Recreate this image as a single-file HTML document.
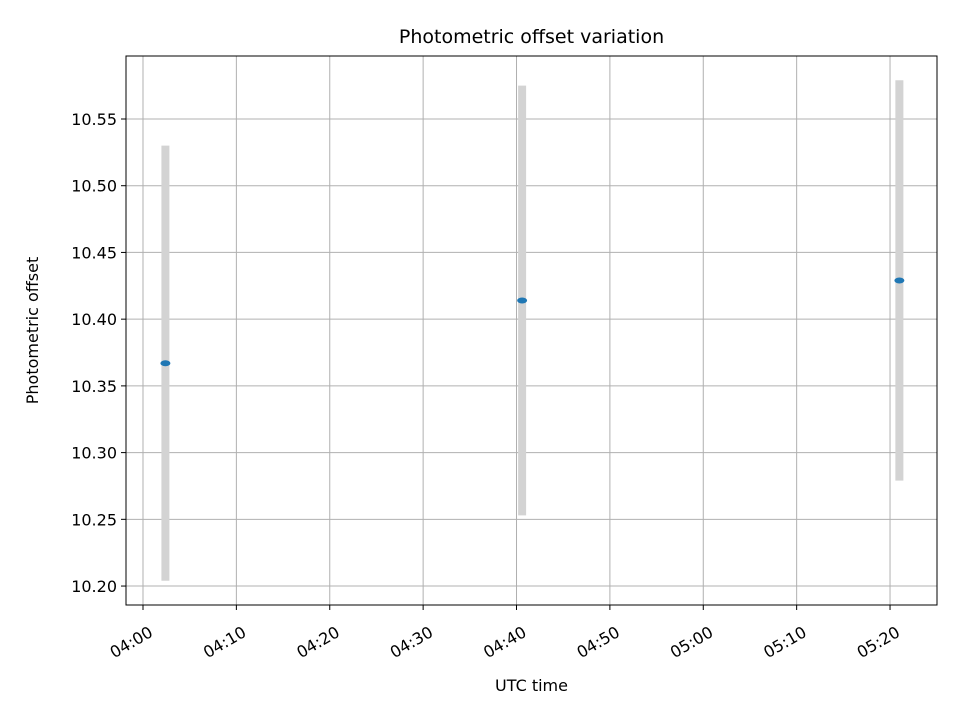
<!DOCTYPE html>
<html><head><meta charset="utf-8"><style>body{margin:0;background:#fff}svg{display:block;font-family:"DejaVu Sans","Liberation Sans",sans-serif}</style></head>
<body>
<svg id="chart" width="960" height="720" viewBox="0 0 960 720"></svg>
<script>
const times = [2.4, 40.6, 81.0]; // minutes after 04:00
const offsets = [10.367, 10.414, 10.429];
const errors = [0.163, 0.161, 0.150];
const yTicks = [10.20, 10.25, 10.30, 10.35, 10.40, 10.45, 10.50, 10.55];
const xTicks = [0, 10, 20, 30, 40, 50, 60, 70, 80];
const xTickLabels = ["04:00","04:10","04:20","04:30","04:40","04:50","05:00","05:10","05:20"];

const L=126,R=937,T=56,B=605;
const xMin=-1.82,xMax=85.03,yMin=10.1858,yMax=10.5972;
const sx=v=>L+(v-xMin)/(xMax-xMin)*(R-L);
const sy=v=>B-(v-yMin)/(yMax-yMin)*(B-T);
const svg=document.getElementById('chart');
const NS='http://www.w3.org/2000/svg';
function mk(tag,attrs,parent){const e=document.createElementNS(NS,tag);for(const k in attrs)e.setAttribute(k,attrs[k]);(parent||svg).appendChild(e);return e;}

const grid=mk('g',{});


xTicks.forEach((t,i)=>{
  const x=sx(t);
  const g=mk('line',{x1:x,x2:x,y1:T,y2:B,stroke:'#b0b0b0','stroke-width':1},grid);
  
  
  const tk=mk('line',{x1:x,x2:x,y1:B,y2:B+5,stroke:'#000','stroke-width':1});
  
  
  const tx=mk('text',{x:0,y:0,'font-size':16,'text-anchor':'end',transform:`translate(${x+5},${B+20}) rotate(-30)`,dy:'0.75em'});
  tx.textContent=xTickLabels[i];
  
  
});
yTicks.forEach(t=>{
  const y=sy(t);
  const g=mk('line',{x1:L,x2:R,y1:y,y2:y,stroke:'#b0b0b0','stroke-width':1},grid);
  
  
  const tk=mk('line',{x1:L-5,x2:L,y1:y,y2:y,stroke:'#000','stroke-width':1});
  
  
  const tx=mk('text',{x:L-9,y:y+6,'font-size':16,'text-anchor':'end'});
  tx.textContent=t.toFixed(2);
  
  
});
times.forEach((t,i)=>{
  const x=sx(t);
  const eb=mk('line',{x1:x,x2:x,y1:sy(offsets[i]+errors[i]),y2:sy(offsets[i]-errors[i]),stroke:'#d3d3d3','stroke-width':8});
  
  
});
times.forEach((t,i)=>{
  const p=mk('ellipse',{cx:sx(t),cy:sy(offsets[i]),rx:5,ry:3,fill:'#1f77b4'});
  
  
});
const frame=mk('rect',{x:L,y:T,width:R-L,height:B-T,fill:'none',stroke:'#000','stroke-width':1});


const title=mk('text',{x:(L+R)/2,y:43,'font-size':19,'text-anchor':'middle'});
title.textContent='Photometric offset variation';


const xl=mk('text',{x:(L+R)/2,y:691,'font-size':16,'text-anchor':'middle'});
xl.textContent='UTC time';


const yl=mk('text',{x:0,y:0,'font-size':16,'text-anchor':'middle',transform:`translate(38,${(T+B)/2}) rotate(-90)`});
yl.textContent='Photometric offset';


</script>
</body></html>
